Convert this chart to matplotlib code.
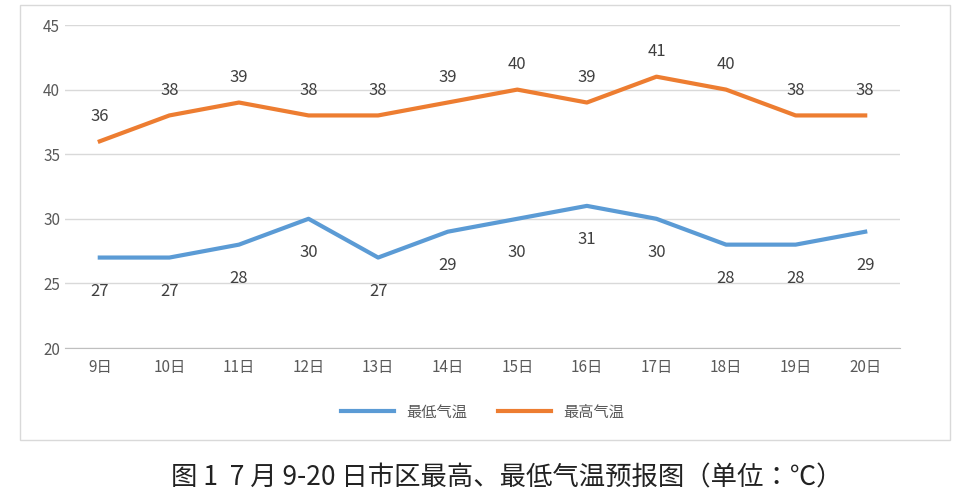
import matplotlib
matplotlib.use("Agg")
import matplotlib.pyplot as plt
from matplotlib.patches import Rectangle
from matplotlib import font_manager as fm

cjk = [f.name for f in fm.fontManager.ttflist if 'CJK' in f.name]
pref = [n for n in ['Noto Sans CJK SC','Noto Sans CJK JP'] if n in cjk] or cjk[:1]
plt.rcParams['font.family'] = 'sans-serif'
plt.rcParams['font.sans-serif'] = pref + ['DejaVu Sans']
plt.rcParams['axes.unicode_minus'] = False

days = ["9日","10日","11日","12日","13日","14日","15日","16日","17日","18日","19日","20日"]
low = [27,27,28,30,27,29,30,31,30,28,28,29]
high = [36,38,39,38,38,39,40,39,41,40,38,38]
yticks = [20,25,30,35,40,45]

fig = plt.figure(figsize=(9.74,5.0), dpi=100)
fig.patches.append(Rectangle((20/974, 60/500), 930/974, 435/500, transform=fig.transFigure,
                             fill=False, edgecolor='#d9d9d9', lw=1))
ax = fig.add_axes([65/974, 152/500, 835/974, 323/500])
x = list(range(len(days)))
blue = '#5b9bd5'; orange = '#ed7d31'
ax.plot(x, low, color=blue, lw=3, label='最低气温')
ax.plot(x, high, color=orange, lw=3, label='最高气温')
for i,v in enumerate(low):
    ax.annotate(str(v), (i,v), xytext=(0,-18), textcoords='offset points', ha='center', va='top', fontsize=12, color='#404040')
for i,v in enumerate(high):
    ax.annotate(str(v), (i,v), xytext=(0,12), textcoords='offset points', ha='center', va='bottom', fontsize=12, color='#404040')
ax.set_xlim(-0.5, len(days)-0.5)
ax.set_ylim(20,45)
ax.set_yticks(yticks)
ax.set_xticks(x)
ax.set_xticklabels(days)
ax.grid(axis='y', color='#d9d9d9', lw=1)
ax.set_axisbelow(True)
for s in ['top','right','left']:
    ax.spines[s].set_visible(False)
ax.spines['bottom'].set_color('#bfbfbf')
ax.tick_params(axis='both', colors='#595959', labelsize=11, length=0)
ax.tick_params(axis='x', pad=8)
ax.legend(loc='upper center', bbox_to_anchor=(0.5, -0.13), ncol=2, frameon=False, fontsize=11,
          handlelength=3.5, labelcolor='#595959')
fig.text(0.52, 22/500, "图 1  7 月 9-20 日市区最高、最低气温预报图（单位：℃）", ha='center', va='center',
         fontsize=19, color='#222222')
fig.savefig("out.png", dpi=100)
